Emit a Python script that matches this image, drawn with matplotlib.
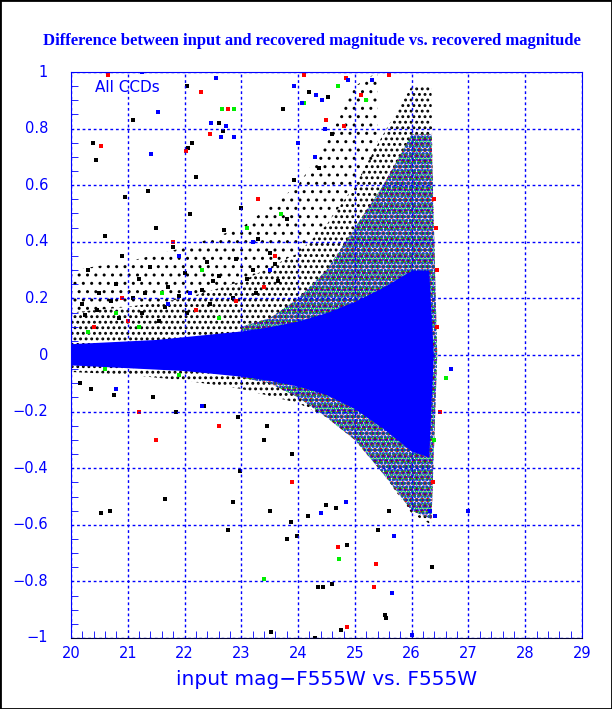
import numpy as np
import matplotlib as mpl
import matplotlib.pyplot as plt
from matplotlib.patches import Rectangle

# envelope of the dense, saturated blue core (mag, upper, lower)
core_mag = [20.0, 20.5, 21.0, 21.5, 22.0, 22.5, 23.0, 23.5, 24.0, 24.5, 25.0, 25.5, 26.0, 26.3, 26.38]
core_hi = [0.04, 0.045, 0.05, 0.055, 0.065, 0.075, 0.085, 0.10, 0.12, 0.15, 0.19, 0.24, 0.3, 0.3, 0.0]
core_lo = [-0.035, -0.04, -0.045, -0.05, -0.055, -0.065, -0.075, -0.09, -0.11, -0.14, -0.19, -0.26, -0.34, -0.36, 0.0]

# inner speckled halo of mostly black points
halo_mag = [20.0, 21.0, 22.0, 23.0, 24.0, 24.5, 25.0, 25.5, 26.0, 26.35, 26.4]
halo_hi = [0.15, 0.17, 0.2, 0.26, 0.36, 0.46, 0.6, 0.78, 0.95, 0.95, 0.0]
halo_lo = [-0.06, -0.07, -0.09, -0.12, -0.17, -0.22, -0.3, -0.42, -0.56, -0.6, 0.0]

# outer, sparser halo
outer_mag = [20.0, 21.0, 22.0, 23.0, 24.0, 24.5, 25.0, 25.4]
outer_hi = [0.3, 0.33, 0.38, 0.45, 0.6, 0.75, 0.95, 1.0]
outer_lo = [0.15, 0.17, 0.2, 0.26, 0.36, 0.46, 0.6, 0.72]

# dense mixed red / green / blue cloud at the faint end
cloud_mag = [23.0, 23.5, 24.0, 24.5, 25.0, 25.5, 26.0, 26.35, 26.45]
cloud_hi = [0.1, 0.13, 0.2, 0.3, 0.45, 0.6, 0.78, 0.78, 0.0]
cloud_lo = [-0.08, -0.1, -0.15, -0.22, -0.3, -0.42, -0.55, -0.58, 0.0]

# y tick labels as printed
ytick_vals = [-1.0, -0.8, -0.6, -0.4, -0.2, 0.0, 0.2, 0.4, 0.6, 0.8, 1.0]
ytick_text = ['\u22121', '\u22120.8', '\u22120.6', '\u22120.4', '\u22120.2', '0',
              '0.2', '0.4', '0.6', '0.8', '1']

# sparse points
black_x = [20.39, 20.44, 21.09, 22.04, 22.61, 22.66, 22.68, 22.13, 22.06, 23.74, 24.19, 24.52, 24.6,
           23.93, 24.37, 20.3, 20.6, 20.9, 21.2, 21.5, 21.8, 22.1, 22.4, 22.7, 23.0, 23.3, 20.5, 20.8,
           21.1, 21.4, 21.7, 22.0, 22.3, 22.6, 22.9, 23.2, 23.5, 23.8, 20.2, 20.7, 21.3, 21.9, 22.5,
           23.1, 23.6, 20.53, 20.69, 21.66, 22.76, 22.98, 22.85, 24.49, 24.67, 24.17, 23.87, 23.80,
           24.86, 26.36, 24.35, 24.44, 24.60, 25.53, 23.51, 25.41, 23.98, 25.60, 23.52, 24.3, 24.75,
           25.54, 23.4, 23.9, 21.35, 22.2, 20.95, 21.55, 20.25, 20.45, 20.85, 21.25, 21.65, 22.05,
           22.45, 22.85, 23.25, 23.65, 20.15, 20.35, 20.75, 21.45, 21.85, 22.35, 22.95, 23.45]
black_y = [0.75, 0.69, 0.83, 0.95, 0.82, 0.87, 0.79, 0.75, 0.73, 0.87, 0.93, 0.91, 0.78,
           0.62, 0.66, 0.3, 0.42, 0.35, 0.27, 0.45, 0.38, 0.5, 0.33, 0.44, 0.52, 0.41, 0.22, 0.25,
           0.2, 0.31, 0.24, 0.29, 0.23, 0.28, 0.34, 0.3, 0.36, 0.48, 0.18, 0.19, 0.22, 0.21, 0.26,
           0.27, 0.32, -0.56, -0.55, -0.51, -0.62, -0.41, -0.52, -0.53, -0.54, -0.57, -0.59, -0.65,
           -0.67, -0.75, -0.82, -0.82, -0.81, -0.92, -0.55, -0.62, -0.64, -0.55, -0.98, -1.0, -0.97,
           -0.93, -0.3, -0.35, 0.58, 0.63, 0.56, 0.12, 0.14, 0.16, 0.13, 0.15, 0.17, 0.15,
           0.18, 0.2, 0.22, 0.26, -0.1, -0.12, -0.14, -0.15, -0.2, -0.18, -0.22, -0.25]
red_x = [20.65, 22.29, 22.77, 22.45, 20.53, 22.03, 24.1, 24.85, 24.8, 24.5, 21.8, 23.3, 24.70,
         25.37, 25.34, 24.86, 21.5, 22.6, 23.9, 20.9, 23.6, 25.1, 25.6, 26.45, 26.5, 21.2,
         20.4, 21.0, 22.2, 22.9, 23.4, 26.4, 26.42, 26.38, 26.44]
red_y = [0.99, 0.93, 0.87, 0.78, 0.74, 0.72, 0.99, 0.98, 0.81, 0.83, 0.4, 0.55, -0.68,
         -0.74, -0.82, -0.96, -0.3, -0.25, -0.45, 0.2, 0.35, 0.92, 0.99, 0.3, -0.2, -0.2,
         0.1, 0.12, 0.16, 0.19, 0.24, 0.55, 0.45, -0.45, 0.1]
green_x = [22.66, 22.87, 24.1, 24.7, 23.1, 22.3, 21.6, 24.72, 23.40, 25.2, 26.6, 26.4, 20.8, 23.7,
           20.3, 20.6, 21.2, 21.9, 22.6]
green_y = [0.87, 0.87, 0.89, 0.95, 0.45, 0.3, 0.22, -0.72, -0.79, 0.9, -0.08, -0.3, 0.15, 0.5,
           0.08, -0.05, 0.1, -0.07, 0.13]
blue_x = [21.25, 21.53, 22.55, 22.47, 22.73, 22.64, 22.87, 21.41, 23.93, 24.07, 24.47, 24.42,
          24.32, 24.88, 24.0, 24.3, 24.40, 24.84, 25.69, 26.41, 26.32, 25.65, 23.2, 21.9, 22.3,
          20.8, 25.3, 26.0, 26.7, 27.0, 21.7, 22.1, 23.5]
blue_y = [1.0, 0.86, 0.98, 0.82, 0.81, 0.77, 0.77, 0.71, 0.95, 0.89, 0.8, 0.9,
          0.92, 0.97, 0.75, 0.7, -0.56, -0.52, -0.64, -0.57, -0.55, -0.84, 0.4, 0.35, -0.18,
          -0.12, 0.97, -0.99, -0.05, -0.55, 0.18, 0.22, 0.3]

fig = plt.figure(figsize=(6.12, 7.09), dpi=100)
ax = fig.add_axes([71 / 612, 71 / 709, 511 / 612, 566 / 709])

with mpl.rc_context({'hatch.linewidth': 1.0}):
    ax.fill_between(outer_mag, outer_lo, outer_hi, facecolor='none', edgecolor='black', hatch='..', linewidth=0)
with mpl.rc_context({'hatch.linewidth': 1.3}):
    ax.fill_between(halo_mag, halo_lo, halo_hi, facecolor='none', edgecolor='black', hatch='...', linewidth=0)
with mpl.rc_context({'hatch.linewidth': 2.2}):
    ax.fill_between(cloud_mag, cloud_lo, cloud_hi, facecolor='none', edgecolor='red', hatch='...', linewidth=0)
with mpl.rc_context({'hatch.linewidth': 1.7}):
    ax.fill_between(cloud_mag, cloud_lo, cloud_hi, facecolor='none', edgecolor='#00ee00', hatch='....', linewidth=0)
with mpl.rc_context({'hatch.linewidth': 1.4}):
    ax.fill_between(cloud_mag, cloud_lo, cloud_hi, facecolor='none', edgecolor='blue', hatch='.....', linewidth=0)
ax.fill_between(core_mag, core_lo, core_hi, color='blue', linewidth=0)

ms = 6
ax.scatter(black_x, black_y, s=ms, c='black', marker='s', linewidths=0)
ax.scatter(red_x, red_y, s=ms, c='red', marker='s', linewidths=0)
ax.scatter(green_x, green_y, s=ms, c='#00ee00', marker='s', linewidths=0)
ax.scatter(blue_x, blue_y, s=ms, c='blue', marker='s', linewidths=0)

ax.set_xlim(20, 29)
ax.set_ylim(-1, 1)
ax.set_xticks(np.arange(20, 30, 1))
ax.set_xticks(np.arange(20, 29.01, 0.2), minor=True)
ax.set_yticks(ytick_vals)
ax.set_yticks(np.arange(-1, 1.01, 0.05), minor=True)
ax.set_yticklabels([])
ax.grid(True, which='major', color='blue', linestyle=(0, (2, 2)), linewidth=1)
ax.tick_params(which='both', direction='in', color='blue', labelcolor='blue', labelsize=10.5)
ax.tick_params(which='minor', length=5)
ax.tick_params(which='major', length=0)
ax.tick_params(axis='x', which='major', pad=6)
for side in ['left', 'right', 'top']:
    ax.spines[side].set_color('blue')
ax.spines['bottom'].set_color('#000033')
ax.set_axisbelow(False)

# y labels sit well to the left of the frame
for v, t in zip(ytick_vals, ytick_text):
    ax.text(-0.045, v, t, transform=ax.get_yaxis_transform(), ha='right', va='center',
            color='blue', fontsize=10.5)

ax.text(0.047, 0.972, 'All CCDs', transform=ax.transAxes, color='blue', fontsize=11,
        ha='left', va='center')

fig.text(0.51, 0.942, 'Difference between input and recovered magnitude vs. recovered magnitude',
         ha='center', va='center', color='blue', fontsize=12, fontweight='bold',
         family='Liberation Serif')
fig.text(0.533, 0.041, 'input mag\u2212F555W vs. F555W', ha='center', va='center',
         color='blue', fontsize=14.5)

fig.patches.append(Rectangle((0, 0), 1, 1, transform=fig.transFigure, fill=False,
                             edgecolor='black', linewidth=2))

fig.savefig('out.png', dpi=100)
